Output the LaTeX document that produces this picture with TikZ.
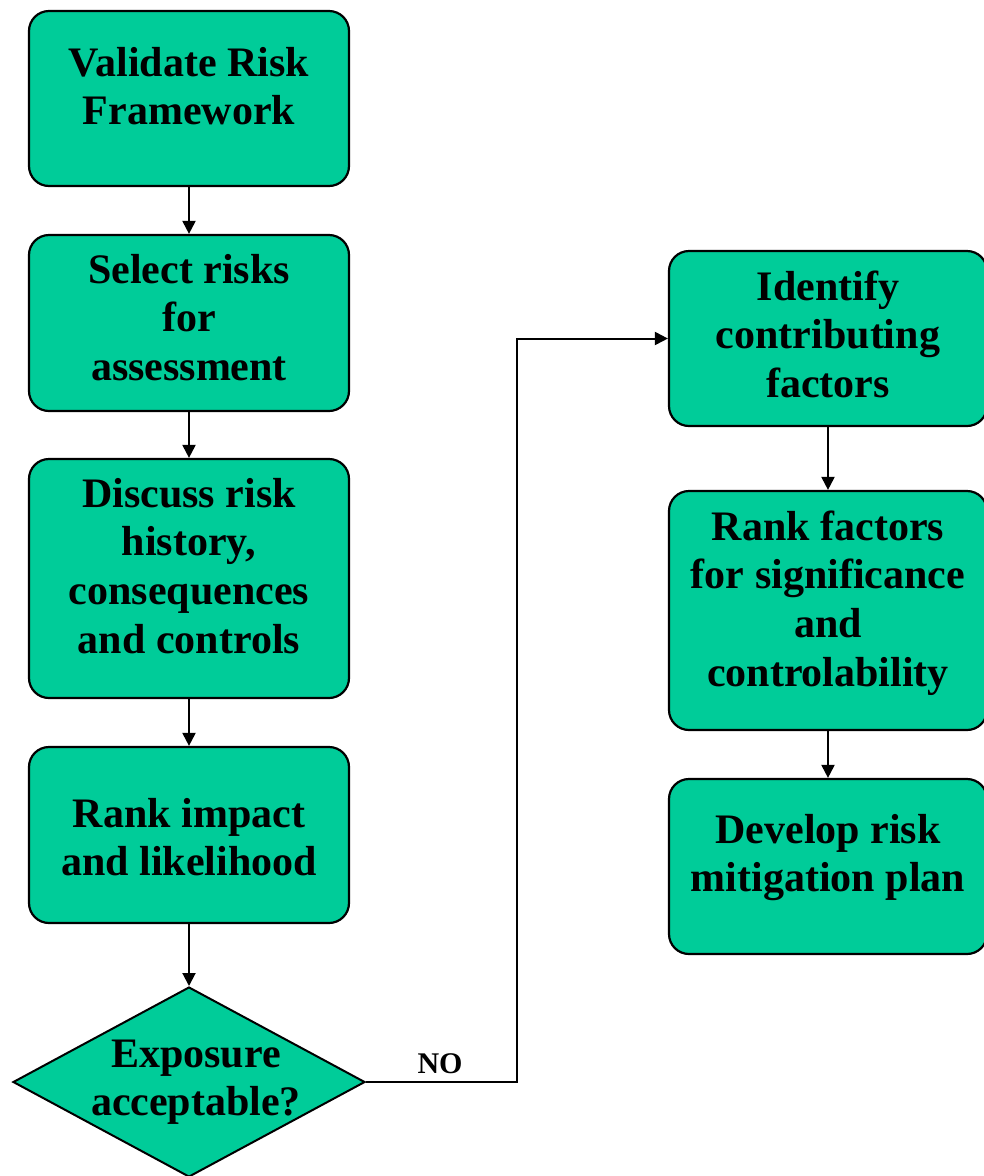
\documentclass[tikz,border=0pt]{standalone}
\usepackage{fontspec}
\setmainfont{Liberation Serif}
\usetikzlibrary{shapes.geometric,arrows.meta}
\definecolor{boxgreen}{RGB}{0,204,153}
\begin{document}
\begin{tikzpicture}[x=1pt,y=-1pt,
  stepbox/.style={draw=black, line width=2.2pt, fill=boxgreen, rounded corners=20pt, inner sep=0pt},
  decbox/.style={draw=black, line width=2pt, fill=boxgreen, diamond, inner sep=0pt, minimum width=352pt, minimum height=190pt},
  lbl/.style={font=\bfseries\fontsize{42}{48.7}\selectfont, inner sep=0pt, anchor=base},
  nolbl/.style={font=\bfseries\fontsize{30}{36}\selectfont, inner sep=0pt, anchor=base},
  arr/.style={line width=2pt, -{Triangle[length=13pt,width=13pt]}},
  conn/.style={line width=2pt}]
\useasboundingbox (0,0) rectangle (984,1176);
\fill[white] (0,0) rectangle (984,1176);
% boxes
\node[stepbox, minimum width=320pt, minimum height=175pt] (b1) at (189,98.5) {};
\node[stepbox, minimum width=320pt, minimum height=176pt] (b2) at (189,323) {};
\node[stepbox, minimum width=320pt, minimum height=239pt] (b3) at (189,578.5) {};
\node[stepbox, minimum width=320pt, minimum height=176pt] (b4) at (189,835) {};
\node[decbox] (dia) at (189,1082) {};
\node[stepbox, minimum width=318pt, minimum height=175pt] (r1) at (828,338.5) {};
\node[stepbox, minimum width=318pt, minimum height=239pt] (r2) at (828,610.5) {};
\node[stepbox, minimum width=318pt, minimum height=175pt] (r3) at (828,866.5) {};
% connectors
\draw[arr] (b1.south) -- (b2.north);
\draw[arr] (b2.south) -- (b3.north);
\draw[arr] (b3.south) -- (b4.north);
\draw[arr] (b4.south) -- (dia.north);
\draw[arr] (r1.south) -- (r2.north);
\draw[arr] (r2.south) -- (r3.north);
\coordinate (turn) at (517,1082);
\draw[arr] (dia.east) -- (turn) |- (r1.west);
% texts
\node[lbl] (t1) at (189,76) {\begin{tabular}[t]{@{}c@{}}Validate Risk\\Framework\end{tabular}};
\node[lbl] (t2) at (189,283) {\begin{tabular}[t]{@{}c@{}}Select risks\\for\\assessment\end{tabular}};
\node[lbl] (t3) at (189,507) {\begin{tabular}[t]{@{}c@{}}Discuss risk\\history,\\consequences\\and controls\end{tabular}};
\node[lbl] (t4) at (189,827) {\begin{tabular}[t]{@{}c@{}}Rank impact\\and likelihood\end{tabular}};
\node[lbl] (td) at (196,1067) {\begin{tabular}[t]{@{}c@{}}Exposure\\acceptable?\end{tabular}};
\node[lbl] (tr1) at (828,300) {\begin{tabular}[t]{@{}c@{}}Identify\\contributing\\factors\end{tabular}};
\node[lbl] (tr2) at (828,540) {\begin{tabular}[t]{@{}c@{}}Rank factors\\for significance\\and\\controlability\end{tabular}};
\node[lbl] (tr3) at (828,843) {\begin{tabular}[t]{@{}c@{}}Develop risk\\mitigation plan\end{tabular}};
\node[nolbl] (no) at (440,1073) {NO};
\end{tikzpicture}
\end{document}
